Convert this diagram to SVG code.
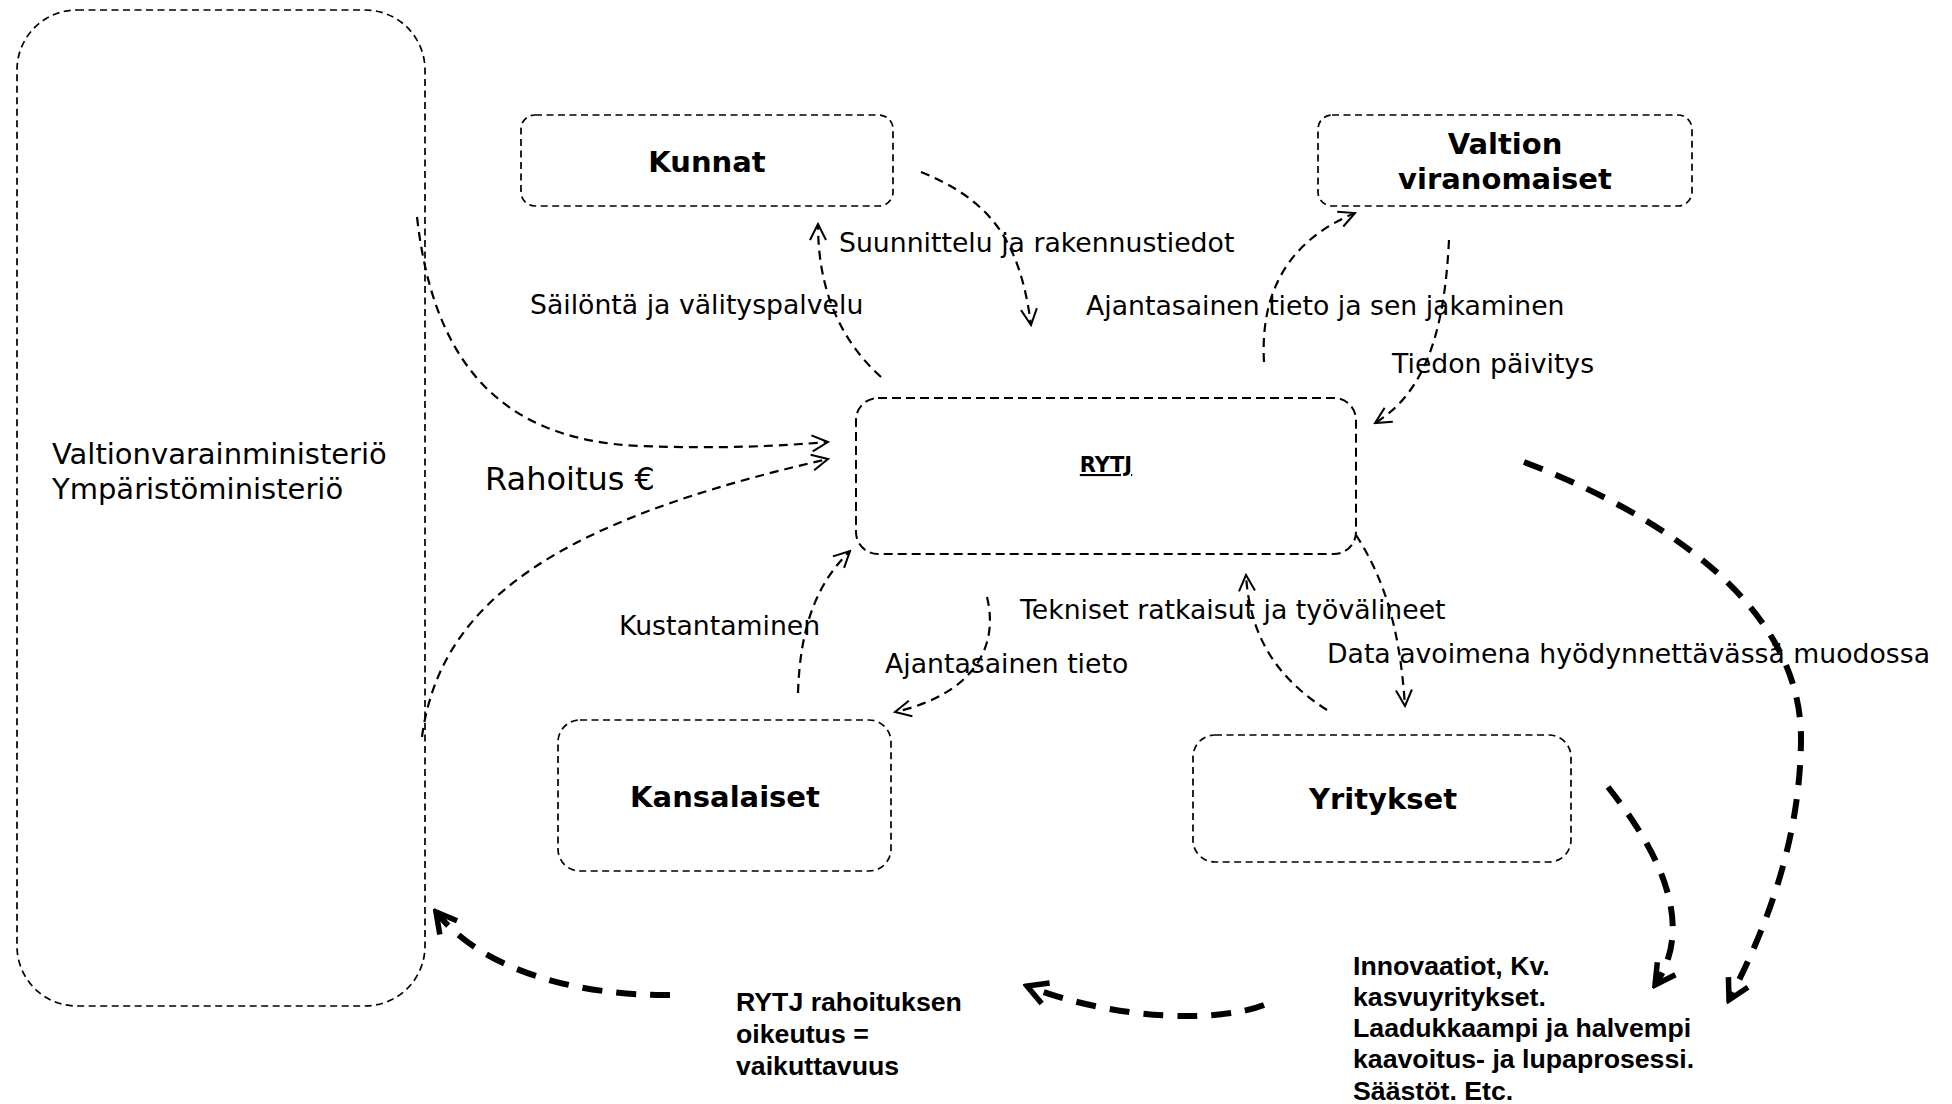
<svg xmlns="http://www.w3.org/2000/svg" width="1952" height="1104" viewBox="0 0 1952 1104">
<style>
.box{fill:none;stroke:#000;stroke-width:1.7;stroke-dasharray:7 4.5}
.conn{fill:none;stroke:#000;stroke-width:2.2;stroke-dasharray:9 6}
.thick{fill:none;stroke:#000;stroke-width:6;stroke-dasharray:20 14}
.lbl{font-family:"DejaVu Sans",Verdana,sans-serif;font-size:26.7px;fill:#000}
.node{font-family:"DejaVu Sans",Verdana,sans-serif;font-size:29px;font-weight:bold;fill:#000;text-anchor:middle}
.big{font-family:"DejaVu Sans",Verdana,sans-serif;font-size:29px;fill:#000}
.arl{font-family:"Liberation Sans",Arial,sans-serif;font-size:26.7px;font-weight:bold;fill:#000}
</style>
<defs>
<marker id="ah" markerUnits="userSpaceOnUse" markerWidth="20" markerHeight="20" viewBox="0 0 20 20" refX="18" refY="10" orient="auto">
<path d="M2,2 L18,10 L2,18" fill="none" stroke="#000" stroke-width="2"/>
</marker>
<marker id="ahb" markerUnits="userSpaceOnUse" markerWidth="28" markerHeight="28" viewBox="0 0 28 28" refX="24" refY="14" orient="auto">
<path d="M4,3 L24,14 L4,25" fill="none" stroke="#000" stroke-width="5.5"/>
</marker>
</defs>

<g id="ministeriot">
<rect class="box" x="17" y="10" width="408" height="996" rx="60" ry="60"/>
<text class="big" x="52" y="464">Valtionvarainministeriö</text>
<text class="big" x="52" y="499">Ympäristöministeriö</text>
</g>

<g id="kunnat">
<rect class="box" x="521" y="115" width="372" height="91" rx="14" ry="14"/>
<text class="node" x="707" y="172">Kunnat</text>
</g>

<g id="valtion-viranomaiset">
<rect class="box" x="1318" y="115" width="374" height="91" rx="14" ry="14"/>
<text class="node" x="1505" y="154">Valtion</text>
<text class="node" x="1505" y="189">viranomaiset</text>
</g>

<g id="rytj">
<rect class="box" x="856" y="398" width="500" height="156" rx="22" ry="22" style="stroke-width:2;stroke-dasharray:9 5"/>
<text class="node" x="1106" y="472" style="font-size:21px;text-decoration:underline">RYTJ</text>
</g>

<g id="kansalaiset">
<rect class="box" x="558" y="720" width="333" height="151" rx="22" ry="22"/>
<text class="node" x="725" y="807">Kansalaiset</text>
</g>

<g id="yritykset">
<rect class="box" x="1193" y="735" width="378" height="127" rx="22" ry="22"/>
<text class="node" x="1383" y="809">Yritykset</text>
</g>

<g id="hyodyt">
<text class="arl" x="1353" y="975">Innovaatiot, Kv.</text>
<text class="arl" x="1353" y="1006">kasvuyritykset.</text>
<text class="arl" x="1353" y="1037">Laadukkaampi ja halvempi</text>
<text class="arl" x="1353" y="1068">kaavoitus- ja lupaprosessi.</text>
<text class="arl" x="1353" y="1100">Säästöt. Etc.</text>
</g>

<g id="rahoituksen-oikeutus">
<text class="arl" x="736" y="1011">RYTJ rahoituksen</text>
<text class="arl" x="736" y="1043">oikeutus =</text>
<text class="arl" x="736" y="1075">vaikuttavuus</text>
</g>

<g id="connectors">
<path class="conn" d="M417,217 C432,350 490,440 640,446 C720,449 780,446 828,442" marker-end="url(#ah)"/>
<path class="conn" d="M422,737 C440,600 560,520 828,459" marker-end="url(#ah)"/>
<path class="conn" d="M881,377 C840,340 818,290 818,224" marker-end="url(#ah)"/>
<path class="conn" d="M921,172 C990,200 1020,240 1031,325" marker-end="url(#ah)"/>
<path class="conn" d="M1264,362 C1260,290 1290,240 1355,213" marker-end="url(#ah)"/>
<path class="conn" d="M1449,240 C1445,320 1430,390 1375,423" marker-end="url(#ah)"/>
<path class="conn" d="M798,693 C800,630 815,585 850,551" marker-end="url(#ah)"/>
<path class="conn" d="M987,597 C1000,650 970,695 895,712" marker-end="url(#ah)"/>
<path class="conn" d="M1327,710 C1280,680 1250,640 1246,575" marker-end="url(#ah)"/>
<path class="conn" d="M1356,535 C1385,580 1400,630 1405,706" marker-end="url(#ah)"/>
<path class="thick" d="M1524,462 C1650,510 1802,600 1801,740 C1800,850 1760,940 1729,1000" marker-end="url(#ahb)"/>
<path class="thick" d="M1608,787 C1650,840 1700,920 1655,985" marker-end="url(#ahb)"/>
<path class="thick" d="M1264,1005 C1220,1022 1120,1022 1027,986" marker-end="url(#ahb)"/>
<path class="thick" d="M670,995 C600,996 490,980 436,912" marker-end="url(#ahb)"/>
<text class="big" x="485" y="490" style="font-size:32px">Rahoitus €</text>
<text class="lbl" x="839" y="252">Suunnittelu ja rakennustiedot</text>
<text class="lbl" x="530" y="314">Säilöntä ja välityspalvelu</text>
<text class="lbl" x="1086" y="315">Ajantasainen tieto ja sen jakaminen</text>
<text class="lbl" x="1392" y="373">Tiedon päivitys</text>
<text class="lbl" x="1020" y="619">Tekniset ratkaisut ja työvälineet</text>
<text class="lbl" x="1327" y="663">Data avoimena hyödynnettävässä muodossa</text>
<text class="lbl" x="619" y="635">Kustantaminen</text>
<text class="lbl" x="885" y="673">Ajantasainen tieto</text>
</g>
</svg>
